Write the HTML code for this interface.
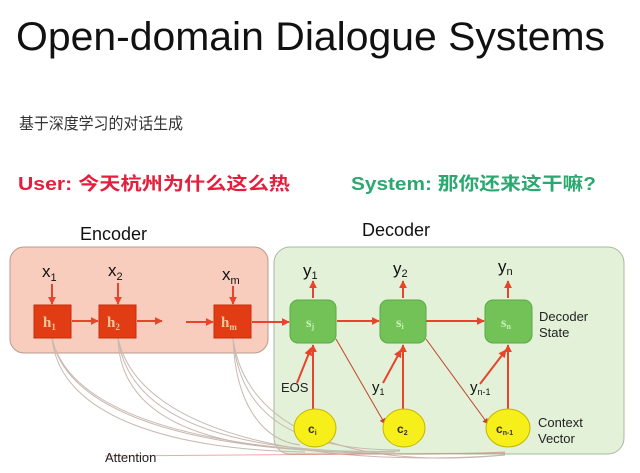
<!DOCTYPE html>
<html><head><meta charset="utf-8"><style>
html,body{margin:0;padding:0;background:#fff;width:640px;height:473px;overflow:hidden}
svg{display:block}
</style></head><body>
<svg width="640" height="473" viewBox="0 0 640 473" xmlns="http://www.w3.org/2000/svg" font-family="Liberation Sans, sans-serif">
<defs>
<marker id="a" viewBox="0 0 10 10" refX="9" refY="5" markerWidth="4" markerHeight="4" orient="auto"><path d="M0,0L10,5L0,10z" fill="#e8442c"/></marker>
<marker id="b" viewBox="0 0 10 10" refX="9" refY="5" markerWidth="6" markerHeight="6" orient="auto"><path d="M0,0L10,5L0,10z" fill="#c0452c"/></marker>
</defs>
<text x="16" y="50" font-size="40" fill="#111" textLength="589" lengthAdjust="spacingAndGlyphs">Open-domain Dialogue Systems</text>
<text x="19" y="129" font-size="16" fill="#333" font-family="Liberation Sans, Noto Sans CJK SC, sans-serif" textLength="164" lengthAdjust="spacingAndGlyphs">基于深度学习的对话生成</text>
<text x="18" y="190" font-size="18" font-weight="bold" fill="#e41e3c" font-family="Liberation Sans, Noto Sans CJK SC, sans-serif" textLength="272" lengthAdjust="spacingAndGlyphs">User: 今天杭州为什么这么热</text>
<text x="351" y="190" font-size="18" font-weight="bold" fill="#2aa870" font-family="Liberation Sans, Noto Sans CJK SC, sans-serif" textLength="245" lengthAdjust="spacingAndGlyphs">System: 那你还来这干嘛?</text>
<text x="80" y="240" font-size="18" fill="#111">Encoder</text>
<text x="362" y="236" font-size="18" fill="#111">Decoder</text>
<!-- boxes -->
<rect x="10" y="247" width="258" height="106" rx="14" fill="#f9cdbd" stroke="#b89a90"/>
<rect x="274" y="247" width="350" height="207" rx="16" fill="#e2f1d8" stroke="#a8b8a0"/>
<!-- attention curves -->
<g fill="none" stroke="#c8b8b0" stroke-width="1">
<path d="M52,338 C60,420 180,450 305,452"/>
<path d="M52,338 C70,430 250,455 395,452"/>
<path d="M52,338 C75,440 300,462 505,452"/>
<path d="M118,338 C120,420 210,445 305,450"/>
<path d="M118,338 C130,430 260,455 400,451"/>
<path d="M118,338 C140,440 330,468 505,455"/>
<path d="M233,338 C235,400 260,440 300,445"/>
<path d="M233,338 C240,420 300,450 400,450"/>
<path d="M233,338 C245,430 350,470 505,455"/>
</g>
<path d="M105,456 L505,453" stroke="#e87060" stroke-width="1" fill="none" opacity="0.6"/>
<text x="105" y="462" font-size="13" fill="#222">Attention</text>
<!-- encoder -->
<g font-size="17" fill="#111">
<text x="42" y="277">x<tspan font-size="11" dy="4">1</tspan></text>
<text x="108" y="276">x<tspan font-size="11" dy="4">2</tspan></text>
<text x="222" y="280">x<tspan font-size="11" dy="4">m</tspan></text>
</g>
<g stroke="#e8442c" stroke-width="2" fill="none" marker-end="url(#a)">
<line x1="52" y1="284" x2="52" y2="304"/>
<line x1="118" y1="283" x2="118" y2="304"/>
<line x1="233" y1="286" x2="233" y2="304"/>
<line x1="72" y1="321" x2="98" y2="321"/>
<line x1="137" y1="321" x2="162" y2="321"/>
<line x1="186" y1="322" x2="213" y2="322"/>
<line x1="252" y1="322" x2="289" y2="322"/>
<line x1="337" y1="321" x2="379" y2="321"/>
<line x1="426" y1="321" x2="484" y2="321"/>
<line x1="313" y1="298" x2="313" y2="281"/>
<line x1="403" y1="298" x2="403" y2="281"/>
<line x1="508" y1="298" x2="508" y2="281"/>
<line x1="313" y1="410" x2="313" y2="345"/>
<line x1="403" y1="410" x2="403" y2="345"/>
<line x1="508" y1="410" x2="508" y2="345"/>
<line x1="297" y1="383" x2="311" y2="348"/>
<line x1="383" y1="383" x2="401" y2="350"/>
<line x1="480" y1="384" x2="506" y2="350"/>
</g>
<g stroke="#c0452c" stroke-width="1" fill="none" marker-end="url(#b)">
<line x1="336" y1="339" x2="385" y2="424"/>
<line x1="426" y1="339" x2="488" y2="424"/>
</g>
<g fill="#e23c14" stroke="#c52d10">
<rect x="34" y="305" width="37" height="33"/>
<rect x="99" y="305" width="37" height="33"/>
<rect x="214" y="305" width="37" height="33"/>
</g>
<g font-family="Liberation Serif, serif" font-weight="bold" fill="#f4c9a0" font-size="15">
<text x="43" y="327">h<tspan font-size="9" dy="3">1</tspan></text>
<text x="107" y="327">h<tspan font-size="9" dy="3">2</tspan></text>
<text x="221" y="327">h<tspan font-size="9" dy="3">m</tspan></text>
</g>
<g fill="#72c257" stroke="#5aa845">
<rect x="290" y="300" width="46" height="43" rx="8"/>
<rect x="380" y="300" width="46" height="43" rx="8"/>
<rect x="485" y="300" width="47" height="43" rx="8"/>
</g>
<g font-family="Liberation Serif, serif" font-weight="bold" fill="#c8f0b8" font-size="14">
<text x="306" y="327">s<tspan font-size="8" dy="2">j</tspan></text>
<text x="396" y="327">s<tspan font-size="8" dy="2">i</tspan></text>
<text x="501" y="327">s<tspan font-size="8" dy="2">n</tspan></text>
</g>
<g font-size="17" fill="#111">
<text x="303" y="276">y<tspan font-size="11" dy="3">1</tspan></text>
<text x="393" y="274">y<tspan font-size="11" dy="3">2</tspan></text>
<text x="498" y="272">y<tspan font-size="11" dy="3">n</tspan></text>
</g>
<g font-size="13" fill="#222">
<text x="539" y="321">Decoder</text>
<text x="539" y="337">State</text>
<text x="538" y="427">Context</text>
<text x="538" y="443">Vector</text>
<text x="281" y="392">EOS</text>
</g>
<g font-size="15" fill="#111">
<text x="372" y="392">y<tspan font-size="9" dy="3">1</tspan></text>
<text x="470" y="392">y<tspan font-size="9" dy="3">n-1</tspan></text>
</g>
<g fill="#f7ef1a" stroke="#c6b400">
<ellipse cx="315" cy="428" rx="21" ry="19"/>
<ellipse cx="404" cy="428" rx="21" ry="19"/>
<ellipse cx="508" cy="428" rx="22" ry="19"/>
</g>
<g font-size="12" font-weight="bold" fill="#333">
<text x="308" y="433">c<tspan font-size="7" dy="2">i</tspan></text>
<text x="397" y="433">c<tspan font-size="7" dy="2">2</tspan></text>
<text x="496" y="433">c<tspan font-size="7" dy="2">n-1</tspan></text>
</g>
</svg>
</body></html>
